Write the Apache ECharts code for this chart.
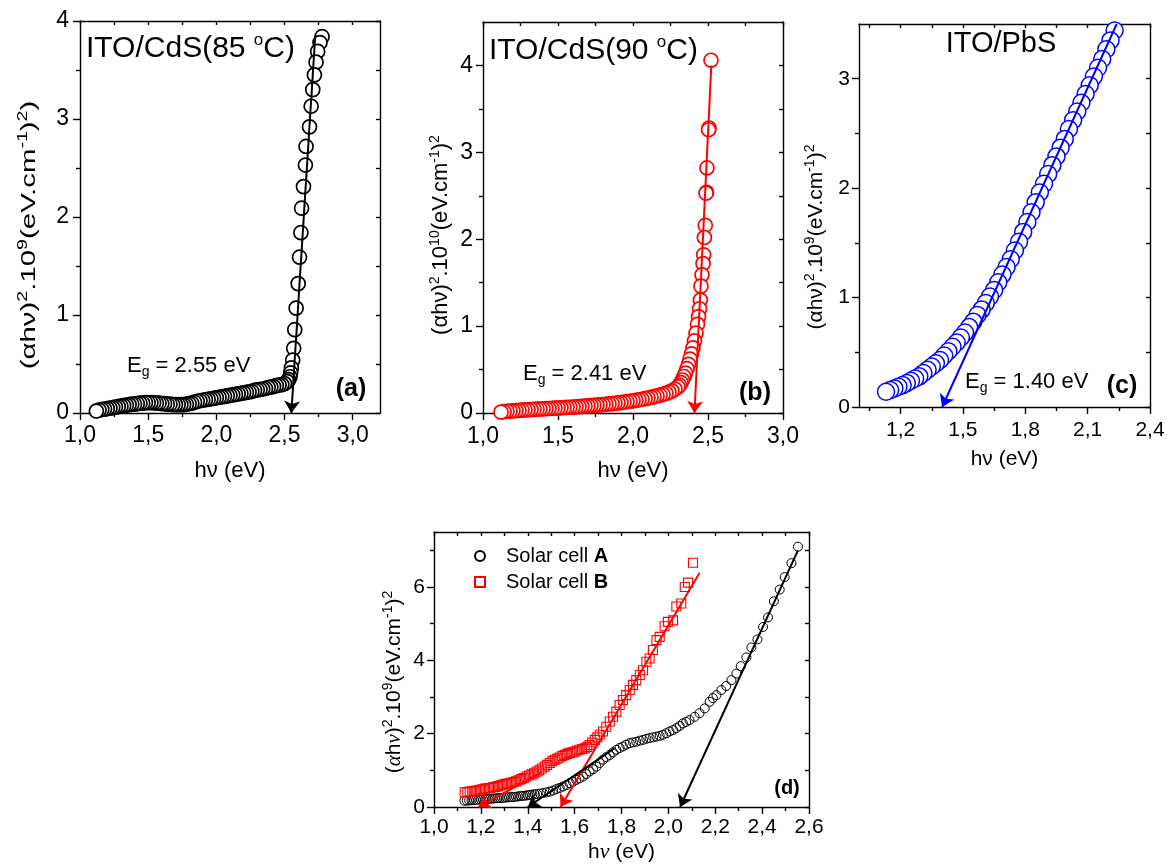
<!DOCTYPE html>
<html>
<head>
<meta charset="utf-8">
<script src="https://cdn.jsdelivr.net/npm/echarts@6/dist/echarts.min.js"></script>
<style>
  html, body { margin: 0; padding: 0; background: #fff; }
  #chart { width: 1167px; height: 866px; }
</style>
</head>
<body>
<div id="chart"></div>
<script>
// ---- Tauc plots: (alpha h nu)^2 versus photon energy h nu (eV) ----

// (a) ITO/CdS bath at 85 °C, [hν, (αhν)²·1e9]
const cds85 = [
  [1.12,0.02],[1.14,0.03],[1.16,0.035],[1.18,0.04],[1.20,0.045],[1.22,0.05],[1.24,0.055],[1.26,0.06],
  [1.28,0.065],[1.30,0.07],[1.32,0.075],[1.34,0.08],[1.36,0.085],[1.38,0.09],[1.40,0.09],[1.42,0.095],
  [1.44,0.10],[1.46,0.10],[1.48,0.105],[1.50,0.105],[1.52,0.105],[1.54,0.105],[1.56,0.10],[1.58,0.10],
  [1.60,0.095],[1.62,0.095],[1.64,0.09],[1.66,0.09],[1.68,0.085],[1.70,0.085],[1.72,0.085],[1.74,0.085],
  [1.76,0.085],[1.78,0.09],[1.80,0.095],[1.82,0.10],[1.84,0.11],[1.86,0.12],[1.88,0.125],[1.90,0.13],
  [1.92,0.135],[1.94,0.14],[1.96,0.145],[1.98,0.15],[2.00,0.155],[2.02,0.16],[2.04,0.165],[2.06,0.17],
  [2.08,0.175],[2.10,0.18],[2.12,0.185],[2.14,0.19],[2.16,0.195],[2.18,0.20],[2.20,0.205],[2.22,0.21],
  [2.24,0.215],[2.26,0.22],[2.28,0.23],[2.30,0.235],[2.32,0.24],[2.34,0.245],[2.36,0.25],[2.38,0.26],
  [2.40,0.265],[2.42,0.27],[2.44,0.28],[2.46,0.285],[2.48,0.29],[2.50,0.30],[2.52,0.32],
  [2.53,0.34],[2.54,0.37],[2.545,0.41],[2.55,0.46],[2.56,0.54],[2.567,0.66],[2.575,0.85],[2.585,1.07],
  [2.60,1.32],[2.61,1.59],[2.62,1.84],[2.625,2.09],[2.639,2.31],[2.653,2.53],[2.658,2.72],[2.683,2.92],
  [2.695,3.13],[2.707,3.30],[2.719,3.45],[2.731,3.58],[2.743,3.69],[2.76,3.78],[2.775,3.84]
];
const eg85 = 2.55;
const fit85 = [[2.725, 3.85], [eg85, 0]];

// (b) ITO/CdS bath at 90 °C, [hν, (αhν)²·1e10]
const cds90 = [
  [1.12,0.01],[1.14,0.015],[1.16,0.02],[1.18,0.022],[1.20,0.025],[1.22,0.028],[1.24,0.03],[1.26,0.032],
  [1.28,0.035],[1.30,0.037],[1.32,0.04],[1.34,0.042],[1.36,0.044],[1.38,0.046],[1.40,0.048],[1.42,0.05],
  [1.44,0.052],[1.46,0.054],[1.48,0.056],[1.50,0.058],[1.52,0.06],[1.54,0.062],[1.56,0.064],[1.58,0.066],
  [1.60,0.068],[1.62,0.07],[1.64,0.073],[1.66,0.076],[1.68,0.079],[1.70,0.082],[1.72,0.085],[1.74,0.088],
  [1.76,0.091],[1.78,0.094],[1.80,0.097],[1.82,0.10],[1.84,0.104],[1.86,0.108],[1.88,0.112],[1.90,0.116],
  [1.92,0.12],[1.94,0.125],[1.96,0.13],[1.98,0.135],[2.00,0.14],[2.02,0.146],[2.04,0.152],[2.06,0.158],
  [2.08,0.165],[2.10,0.172],[2.12,0.18],[2.14,0.188],[2.16,0.196],[2.18,0.205],[2.20,0.215],[2.22,0.226],
  [2.24,0.24],[2.26,0.255],[2.28,0.275],[2.30,0.30],[2.31,0.32],[2.32,0.35],[2.33,0.38],[2.34,0.42],
  [2.35,0.46],[2.36,0.51],[2.37,0.56],[2.38,0.62],[2.39,0.68],[2.40,0.75],[2.41,0.83],[2.42,0.92],
  [2.43,1.02],[2.437,1.11],[2.444,1.2],[2.449,1.3],[2.453,1.46],[2.46,1.59],[2.467,1.72],[2.471,1.82],
  [2.476,2.02],[2.482,2.16],[2.487,2.53],[2.49,2.54],[2.493,2.82],[2.504,3.26],[2.507,3.28],[2.52,4.06]
];
const eg90 = 2.41;
const fit90 = [[2.522, 4.0], [eg90, 0]];

// (c) ITO/PbS, [hν, (αhν)²·1e9]
const pbs = [
  [1.13,0.14],[1.15,0.155],[1.17,0.17],[1.19,0.185],[1.21,0.20],[1.23,0.22],[1.25,0.24],[1.27,0.26],
  [1.29,0.28],[1.31,0.31],[1.33,0.34],[1.35,0.37],[1.37,0.40],[1.39,0.43],[1.41,0.47],[1.43,0.51],
  [1.45,0.55],[1.47,0.59],[1.49,0.635],[1.51,0.68],[1.53,0.73],[1.55,0.78],[1.57,0.84],[1.59,0.89],
  [1.61,0.95],[1.63,1.01],[1.65,1.07],[1.67,1.14],[1.69,1.21],[1.71,1.28],[1.73,1.35],[1.75,1.43],
  [1.77,1.51],[1.79,1.60],[1.81,1.69],[1.83,1.78],[1.85,1.87],[1.87,1.96],[1.89,2.04],[1.91,2.13],
  [1.93,2.21],[1.95,2.29],[1.97,2.37],[1.99,2.45],[2.01,2.54],[2.03,2.62],[2.05,2.70],[2.07,2.78],
  [2.09,2.86],[2.11,2.94],[2.13,3.02],[2.15,3.10],[2.17,3.18],[2.19,3.27],[2.21,3.35],[2.23,3.44],
  [2.25,3.52]
];
const egPbS = 1.40;
const fitPbS = [[2.24, 3.5], [egPbS, 0]];

// (d) complete cells, [hν, (αhν)²·1e9]
const cellA = [
  [1.13,0.17],[1.14,0.175],[1.15,0.18],[1.16,0.185],[1.17,0.19],[1.18,0.195],[1.19,0.20],[1.20,0.205],
  [1.21,0.21],[1.22,0.215],[1.23,0.22],[1.24,0.225],[1.25,0.23],[1.26,0.235],[1.27,0.24],[1.28,0.245],
  [1.29,0.25],[1.30,0.255],[1.31,0.26],[1.32,0.265],[1.33,0.27],[1.34,0.275],[1.35,0.28],[1.36,0.29],
  [1.37,0.30],[1.38,0.305],[1.39,0.31],[1.40,0.32],[1.41,0.33],[1.42,0.34],[1.43,0.345],[1.44,0.355],
  [1.452,0.365],[1.465,0.38],[1.48,0.40],[1.494,0.42],[1.508,0.45],[1.522,0.49],[1.536,0.52],[1.55,0.56],
  [1.565,0.60],[1.579,0.65],[1.593,0.69],[1.607,0.74],[1.621,0.78],[1.636,0.83],[1.65,0.90],[1.664,0.97],
  [1.679,1.03],[1.693,1.10],[1.707,1.20],[1.721,1.29],[1.736,1.36],[1.75,1.42],[1.764,1.49],[1.778,1.56],
  [1.792,1.61],[1.806,1.65],[1.82,1.70],[1.835,1.74],[1.849,1.76],[1.863,1.78],[1.878,1.81],[1.892,1.83],
  [1.906,1.86],[1.92,1.88],[1.935,1.90],[1.949,1.92],[1.963,1.94],[1.977,1.97],[1.991,2.01],[2.005,2.06],
  [2.02,2.10],[2.034,2.15],[2.048,2.21],[2.062,2.28],[2.076,2.32],[2.09,2.37],[2.112,2.46],[2.133,2.56],
  [2.155,2.69],[2.176,2.87],[2.19,2.97],[2.205,3.05],[2.226,3.19],[2.247,3.30],[2.269,3.46],[2.29,3.64],
  [2.309,3.84],[2.333,4.08],[2.354,4.35],[2.38,4.57],[2.404,4.91],[2.425,5.17],[2.45,5.61],[2.475,5.93],
  [2.496,6.27],[2.525,6.65],[2.553,7.10]
];
const cellB = [
  [1.131,0.40],[1.142,0.41],[1.152,0.42],[1.163,0.43],[1.174,0.44],[1.185,0.45],[1.196,0.47],[1.207,0.48],
  [1.218,0.50],[1.229,0.51],[1.24,0.52],[1.251,0.54],[1.262,0.55],[1.273,0.57],[1.284,0.59],[1.295,0.61],
  [1.306,0.63],[1.317,0.64],[1.328,0.66],[1.339,0.68],[1.35,0.70],[1.361,0.73],[1.372,0.76],[1.383,0.79],
  [1.394,0.83],[1.405,0.86],[1.416,0.89],[1.427,0.92],[1.438,0.96],[1.449,1.00],[1.46,1.05],[1.472,1.10],
  [1.483,1.15],[1.494,1.20],[1.505,1.25],[1.515,1.29],[1.526,1.32],[1.536,1.35],[1.547,1.39],[1.557,1.42],
  [1.568,1.45],[1.579,1.47],[1.59,1.49],[1.60,1.51],[1.611,1.54],[1.621,1.56],[1.632,1.58],[1.643,1.60],
  [1.654,1.64],[1.664,1.69],[1.675,1.76],[1.686,1.83],[1.697,1.90],[1.707,1.97],[1.721,2.06],[1.735,2.19],
  [1.75,2.33],[1.764,2.46],[1.778,2.60],[1.792,2.78],[1.806,2.92],[1.82,3.05],[1.835,3.19],[1.849,3.33],
  [1.863,3.46],[1.878,3.60],[1.892,3.73],[1.906,3.96],[1.92,4.05],[1.934,4.28],[1.949,4.55],[1.963,4.64],
  [1.984,4.93],[1.998,5.05],[2.02,5.09],[2.034,5.47],[2.055,5.55],[2.07,6.00],[2.084,6.12],[2.105,6.66]
];
// linear extrapolations to the energy axis
const fitsA = [[[1.77, 1.6], [1.40, 0]], [[2.553, 7.0], [2.05, 0]]];
const fitsB = [[[1.46, 0.95], [1.19, 0]], [[2.133, 6.38], [1.54, 0]]];

// axis ticks
const ticksXa = [1.0, 1.5, 2.0, 2.5, 3.0], minorXa = [1.25, 1.75, 2.25, 2.75];
const ticksYa = [0, 1, 2, 3, 4],          minorYa = [0.5, 1.5, 2.5, 3.5];
const ticksXb = [1.0, 1.5, 2.0, 2.5, 3.0], minorXb = [1.25, 1.75, 2.25, 2.75];
const ticksYb = [0, 1, 2, 3, 4],          minorYb = [0.5, 1.5, 2.5, 3.5];
const ticksXc = [1.2, 1.5, 1.8, 2.1, 2.4], minorXc = [1.05, 1.35, 1.65, 1.95, 2.25];
const ticksYc = [0, 1, 2, 3],             minorYc = [0.5, 1.5, 2.5];
const ticksXd = [1.0, 1.2, 1.4, 1.6, 1.8, 2.0, 2.2, 2.4, 2.6], minorXd = [1.1, 1.3, 1.5, 1.7, 1.9, 2.1, 2.3, 2.5];
const ticksYd = [0, 2, 4, 6],             minorYd = [1, 3, 5, 7];

const FONT = '"Liberation Sans", Arial, Helvetica, sans-serif';
const SERIF = '"Liberation Serif", "Times New Roman", serif';
const LINE = { color: '#000', width: 1.4 };
const commaFmt = v => v.toFixed(1).replace('.', ',');

// bottom/left axis with labels, a minor-tick twin, and a mirrored top/right axis
function xAxes(gi, o) {
  const base = { gridIndex: gi, type: 'value', min: o.min, max: o.max, splitLine: { show: false } };
  return [
    Object.assign({}, base, {
      position: 'bottom',
      axisLine: { show: true, onZero: false, lineStyle: LINE },
      axisTick: { show: true, inside: false, length: 7, customValues: o.major, lineStyle: LINE },
      axisLabel: { show: true, customValues: o.major, margin: o.margin, fontSize: o.fs, color: '#000',
                   fontFamily: FONT, formatter: commaFmt },
      name: o.name, nameLocation: 'middle', nameGap: o.nameGap,
      nameTextStyle: { fontSize: o.nameFs, color: '#000', fontFamily: FONT, rich: o.nameRich || {} }
    }),
    Object.assign({}, base, {
      position: 'bottom',
      axisLine: { show: false, onZero: false },
      axisTick: { show: true, inside: false, length: 4, customValues: o.minor, lineStyle: LINE },
      axisLabel: { show: false }
    }),
    Object.assign({}, base, {
      position: 'top',
      axisLine: { show: true, onZero: false, lineStyle: LINE },
      axisTick: { show: true, inside: true, length: 4, customValues: o.major.concat(o.minor), lineStyle: LINE },
      axisLabel: { show: false }
    })
  ];
}
function yAxes(gi, o) {
  const base = { gridIndex: gi, type: 'value', min: o.min, max: o.max, splitLine: { show: false } };
  return [
    Object.assign({}, base, {
      position: 'left',
      axisLine: { show: true, onZero: false, lineStyle: LINE },
      axisTick: { show: true, inside: false, length: 7, customValues: o.major, lineStyle: LINE },
      axisLabel: { show: true, customValues: o.major, margin: o.margin, fontSize: o.fs, color: '#000',
                   fontFamily: FONT, formatter: v => String(v) }
    }),
    Object.assign({}, base, {
      position: 'left',
      axisLine: { show: false, onZero: false },
      axisTick: { show: true, inside: false, length: 4, customValues: o.minor, lineStyle: LINE },
      axisLabel: { show: false }
    }),
    Object.assign({}, base, {
      position: 'right',
      axisLine: { show: true, onZero: false, lineStyle: LINE },
      axisTick: { show: true, inside: true, length: 4, customValues: o.major.concat(o.minor), lineStyle: LINE },
      axisLabel: { show: false }
    })
  ];
}

const italicNu = { i: { fontFamily: SERIF, fontStyle: 'italic', fontSize: 22, color: '#000' } };

const xAxisList = [].concat(
  xAxes(0, { min: 1.0, max: 3.2, major: ticksXa, minor: minorXa, margin: 11, fs: 23, name: 'hν (eV)', nameGap: 47, nameFs: 22 }),
  xAxes(1, { min: 1.0, max: 3.0, major: ticksXb, minor: minorXb, margin: 12, fs: 23, name: 'hν (eV)', nameGap: 47, nameFs: 22 }),
  xAxes(2, { min: 1.0, max: 2.4, major: ticksXc, minor: minorXc, margin: 13, fs: 21, name: 'hν (eV)', nameGap: 42, nameFs: 21 }),
  xAxes(3, { min: 1.0, max: 2.6, major: ticksXd, minor: minorXd, margin: 10, fs: 21, name: 'h{i|ν} (eV)', nameGap: 34, nameFs: 21, nameRich: italicNu })
);
const yAxisList = [].concat(
  yAxes(0, { min: 0, max: 4,   major: ticksYa, minor: minorYa, margin: 11, fs: 23 }),
  yAxes(1, { min: 0, max: 4.5, major: ticksYb, minor: minorYb, margin: 10, fs: 23 }),
  yAxes(2, { min: 0, max: 3.5, major: ticksYc, minor: minorYc, margin: 9,  fs: 21 }),
  yAxes(3, { min: 0, max: 7.5, major: ticksYd, minor: minorYd, margin: 9,  fs: 21 })
);

// hollow-marker scatter; the white-filled ones are drawn from high to low energy
function dots(gi, name, pts, symbol, size, color, fill, bw) {
  return {
    type: 'scatter', name: name, xAxisIndex: gi * 3, yAxisIndex: gi * 3,
    data: fill === '#fff' ? pts.slice().reverse() : pts,
    symbol: symbol, symbolSize: size, silent: true,
    itemStyle: { color: fill, borderColor: color, borderWidth: bw, opacity: 1 }
  };
}
// straight fit with an arrowhead where it meets the energy axis
function arrows(gi, segs, color) {
  return {
    type: 'line', xAxisIndex: gi * 3, yAxisIndex: gi * 3, data: [], silent: true,
    markLine: {
      silent: true, symbol: ['none', 'arrow'], symbolSize: 12, animation: false,
      label: { show: false },
      lineStyle: { color: color, width: 2, type: 'solid' },
      itemStyle: { color: color },
      emphasis: { disabled: true },
      data: segs.map(s => [{ coord: s[0] }, { coord: s[1] }])
    }
  };
}

const series = [
  dots(0, 'CdS 85', cds85, 'circle', 14, '#000', '#fff', 1.7),
  arrows(0, [fit85], '#000'),
  dots(1, 'CdS 90', cds90, 'circle', 14, '#ff0000', '#fff', 1.7),
  arrows(1, [fit90], '#ff0000'),
  dots(2, 'PbS', pbs, 'circle', 17, '#0000ff', '#fff', 1.5),
  arrows(2, [fitPbS], '#0000ff'),
  dots(3, 'A', cellA, 'circle', 9, '#000', 'rgba(0,0,0,0)', 1),
  dots(3, 'B', cellB, 'rect', 9, '#ff0000', 'rgba(0,0,0,0)', 1.1),
  arrows(3, fitsB, '#ff0000'),
  arrows(3, fitsA, '#000')
];

// free text: sample names, band gaps, panel letters, y titles
const SUP = { fontSize: 14, lineHeight: 14, verticalAlign: 'top', fontFamily: FONT, fill: '#000' };
const SUB = { fontSize: 14, lineHeight: 14, verticalAlign: 'bottom', fontFamily: FONT, fill: '#000' };
function txt(x, y, text, fs, opts) {
  opts = opts || {};
  return {
    type: 'text', x: x, y: y, rotation: opts.rot || 0, scaleX: opts.sx || 1, silent: true,
    style: {
      text: text, fontSize: fs, fontFamily: FONT, fontWeight: opts.bold ? 'bold' : 'normal',
      fill: '#000', align: opts.align || 'left', verticalAlign: 'middle',
      lineHeight: opts.lh || Math.round(fs * 1.2), rich: opts.rich || {}
    }
  };
}
const egText = v => 'E{g|g} = ' + v.toFixed(2) + ' eV';
const egRich = { g: SUB };
const titleRich = { o: { fontSize: 17, lineHeight: 17, verticalAlign: 'top', fontFamily: FONT, fill: '#000' } };
const yRich = { s: SUP };
const yRichD = {
  s: SUP,
  i: { fontSize: 21, lineHeight: 25, fontStyle: 'italic', fontFamily: SERIF, fill: '#000' }
};

const graphics = [
  txt(86, 49, 'ITO/CdS(85 {o|o}C)', 30, { rich: titleRich, lh: 34 }),
  txt(489, 51, 'ITO/CdS(90 {o|o}C)', 30, { rich: titleRich, lh: 34 }),
  txt(1001, 44, 'ITO/PbS', 29, { align: 'center' }),
  txt(127, 366, egText(eg85), 22, { rich: egRich, lh: 26 }),
  txt(523, 374, egText(eg90), 22, { rich: egRich, lh: 26 }),
  txt(965, 382, egText(egPbS), 22, { rich: egRich, lh: 26 }),
  txt(351, 389, '(a)', 25, { bold: true, align: 'center' }),
  txt(755, 393, '(b)', 25, { bold: true, align: 'center' }),
  txt(1122, 386, '(c)', 25, { bold: true, align: 'center' }),
  txt(787, 788, '(d)', 20, { bold: true, align: 'center' }),
  txt(29, 235, '(αhν){s|2}.10{s|9}(eV.cm{s|-1}){s|2})', 21, { rot: Math.PI / 2, sx: 1.4, align: 'center', rich: yRich, lh: 25 }),
  txt(441, 235, '(αhν){s|2}.10{s|10}(eV.cm{s|-1}){s|2}', 22, { rot: Math.PI / 2, align: 'center', rich: yRich, lh: 26 }),
  txt(816, 237, '(αhν){s|2}.10{s|9}(eV.cm{s|-1}){s|2}', 21, { rot: Math.PI / 2, align: 'center', rich: yRich, lh: 25 }),
  txt(394, 682, '({i|α}h{i|ν}){s|2}.10{s|9}(eV.cm{s|-1}){s|2}', 21, { rot: Math.PI / 2, align: 'center', rich: yRichD, lh: 25 })
];

const chart = echarts.init(document.getElementById('chart'), null, { renderer: 'canvas' });
chart.setOption({
  backgroundColor: '#fff',
  animation: false,
  grid: [
    { left: 80,  top: 21,  width: 300, height: 392, outerBoundsMode: 'none' },
    { left: 483, top: 22,  width: 300, height: 391, outerBoundsMode: 'none' },
    { left: 859, top: 24,  width: 291, height: 383, outerBoundsMode: 'none' },
    { left: 434, top: 532, width: 375, height: 275, outerBoundsMode: 'none' }
  ],
  xAxis: xAxisList,
  yAxis: yAxisList,
  legend: {
    data: ['A', 'B'], orient: 'vertical', left: 469, top: 541, itemGap: 6,
    itemWidth: 10, itemHeight: 10, selectedMode: false,
    formatter: name => '{n|Solar cell }{b|' + name + '}',
    textStyle: {
      fontSize: 20, color: '#000', fontFamily: FONT,
      rich: {
        n: { fontSize: 20, color: '#000', fontFamily: FONT, padding: [0, 0, 0, 16] },
        b: { fontSize: 20, color: '#000', fontFamily: FONT, fontWeight: 'bold' }
      }
    }
  },
  graphic: graphics,
  series: series
});
</script>
</body>
</html>
